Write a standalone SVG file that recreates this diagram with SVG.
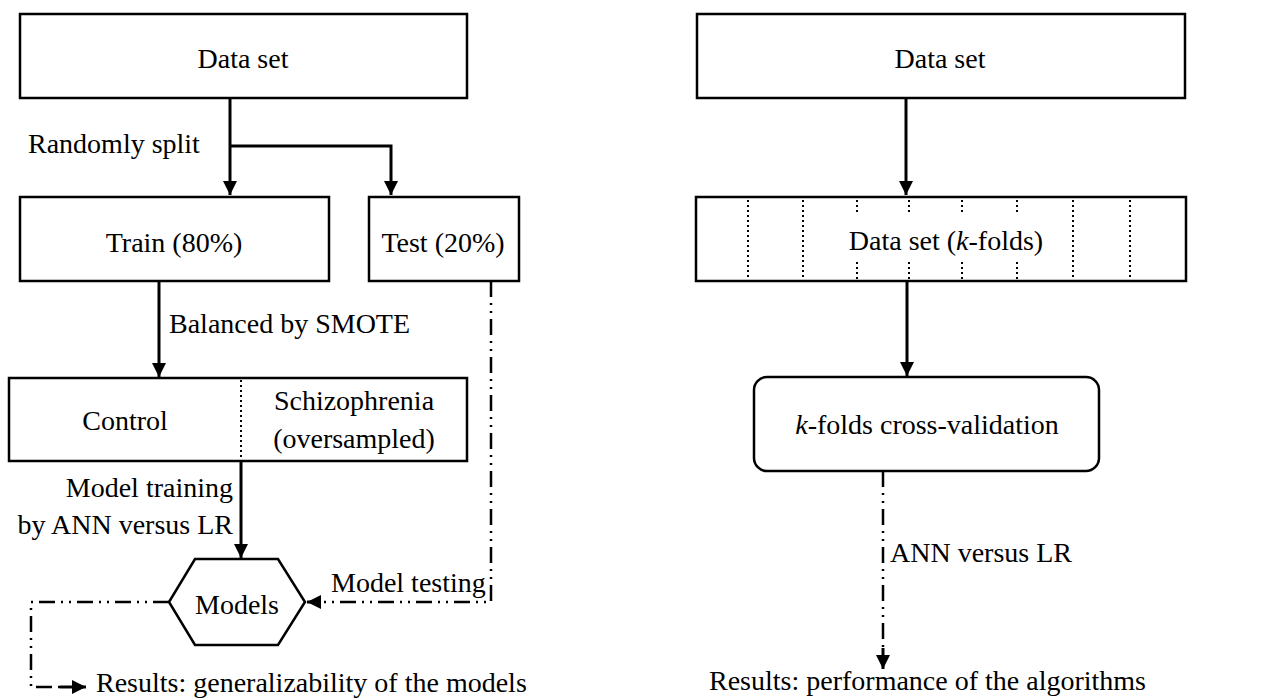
<svg xmlns="http://www.w3.org/2000/svg" width="1266" height="700" viewBox="0 0 1266 700">
<style>
.box{fill:#fff;stroke:#000;stroke-width:2.5}
.t{font-family:"Liberation Serif","Times New Roman",serif;font-size:28px;fill:#000}
.m{text-anchor:middle}
.e{text-anchor:end}
.solid{fill:none;stroke:#000;stroke-width:3}
.dd{fill:none;stroke:#000;stroke-width:2.5;stroke-dasharray:16 6 2 6 2 6}
.dot{stroke:#000;stroke-width:2;stroke-dasharray:2 3}
</style>
<defs>
<marker id="ah" markerUnits="userSpaceOnUse" markerWidth="14" markerHeight="14" refX="14" refY="7" orient="auto">
<path d="M0,0 L14,7 L0,14 Z" fill="#000"/>
</marker>
</defs>
<rect width="1266" height="700" fill="#fff"/>
<g id="connectors">
<path class="solid" d="M230,98 V195" marker-end="url(#ah)"/>
<path class="solid" d="M230,146 H391 V195" marker-end="url(#ah)"/>
<path class="solid" d="M159,281 V377" marker-end="url(#ah)"/>
<path class="solid" d="M241,461 V558" marker-end="url(#ah)"/>
<path class="dd" d="M491,281 V602 H318"/>
<path class="solid" d="M320,602 H307" marker-end="url(#ah)" stroke-width="2.5"/>
<path class="dd" d="M169,602 H31 V687 H60"/>
<path class="solid" d="M60,687 H86" marker-end="url(#ah)" stroke-width="2.5"/>
<path class="solid" d="M906,98 V195" marker-end="url(#ah)"/>
<path class="solid" d="M907,281 V376" marker-end="url(#ah)"/>
<path class="dd" d="M883,471 V648"/>
<path class="solid" d="M883,648 V669" marker-end="url(#ah)" stroke-width="2.5"/>
<text class="t" x="28" y="153">Randomly split</text>
<text class="t" x="169" y="333">Balanced by SMOTE</text>
<text class="t e" x="233" y="497">Model training</text>
<text class="t e" x="233" y="534">by ANN versus LR</text>
<text class="t" x="331" y="592">Model testing</text>
<text class="t" x="890" y="562">ANN versus LR</text>
</g>
<g id="dataset-left">
<rect class="box" x="20" y="14" width="447" height="84"/>
<text class="t m" x="243" y="68">Data set</text>
</g>
<g id="train">
<rect class="box" x="20" y="197" width="309" height="84"/>
<text class="t m" x="174" y="252">Train (80%)</text>
</g>
<g id="test">
<rect class="box" x="369" y="197" width="150" height="84"/>
<text class="t m" x="443" y="252">Test (20%)</text>
</g>
<g id="balanced">
<rect class="box" x="9" y="378" width="458" height="83"/>
<line class="dot" x1="241" y1="380" x2="241" y2="459"/>
<text class="t m" x="125" y="430">Control</text>
<text class="t m" x="354" y="410">Schizophrenia</text>
<text class="t m" x="354" y="448">(oversampled)</text>
</g>
<g id="models">
<polygon class="box" points="195,559 278,559 305,602 278,645 195,645 169,602"/>
<text class="t m" x="237" y="614">Models</text>
</g>
<g id="results-left">
<text class="t" x="96" y="692">Results: generalizability of the models</text>
</g>
<g id="dataset-right">
<rect class="box" x="697" y="14" width="488" height="84"/>
<text class="t m" x="940" y="68">Data set</text>
</g>
<g id="kfolds">
<rect class="box" x="696" y="197" width="490" height="84"/>
<line class="dot" x1="748" y1="200" x2="748" y2="279"/>
<line class="dot" x1="803" y1="200" x2="803" y2="279"/>
<line class="dot" x1="1073" y1="200" x2="1073" y2="279"/>
<line class="dot" x1="1130" y1="200" x2="1130" y2="279"/>
<line class="dot" x1="857" y1="200" x2="857" y2="215"/>
<line class="dot" x1="857" y1="262" x2="857" y2="279"/>
<line class="dot" x1="909" y1="200" x2="909" y2="215"/>
<line class="dot" x1="909" y1="262" x2="909" y2="279"/>
<line class="dot" x1="962" y1="200" x2="962" y2="215"/>
<line class="dot" x1="962" y1="262" x2="962" y2="279"/>
<line class="dot" x1="1017" y1="200" x2="1017" y2="215"/>
<line class="dot" x1="1017" y1="262" x2="1017" y2="279"/>
<text class="t m" x="946" y="250">Data set (<tspan font-style="italic">k</tspan>-folds)</text>
</g>
<g id="cv">
<rect class="box" x="754" y="377" width="345" height="94" rx="13"/>
<text class="t m" x="927" y="434"><tspan font-style="italic">k</tspan>-folds cross-validation</text>
</g>
<g id="results-right">
<text class="t" x="709" y="690">Results: performance of the algorithms</text>
</g>
</svg>
